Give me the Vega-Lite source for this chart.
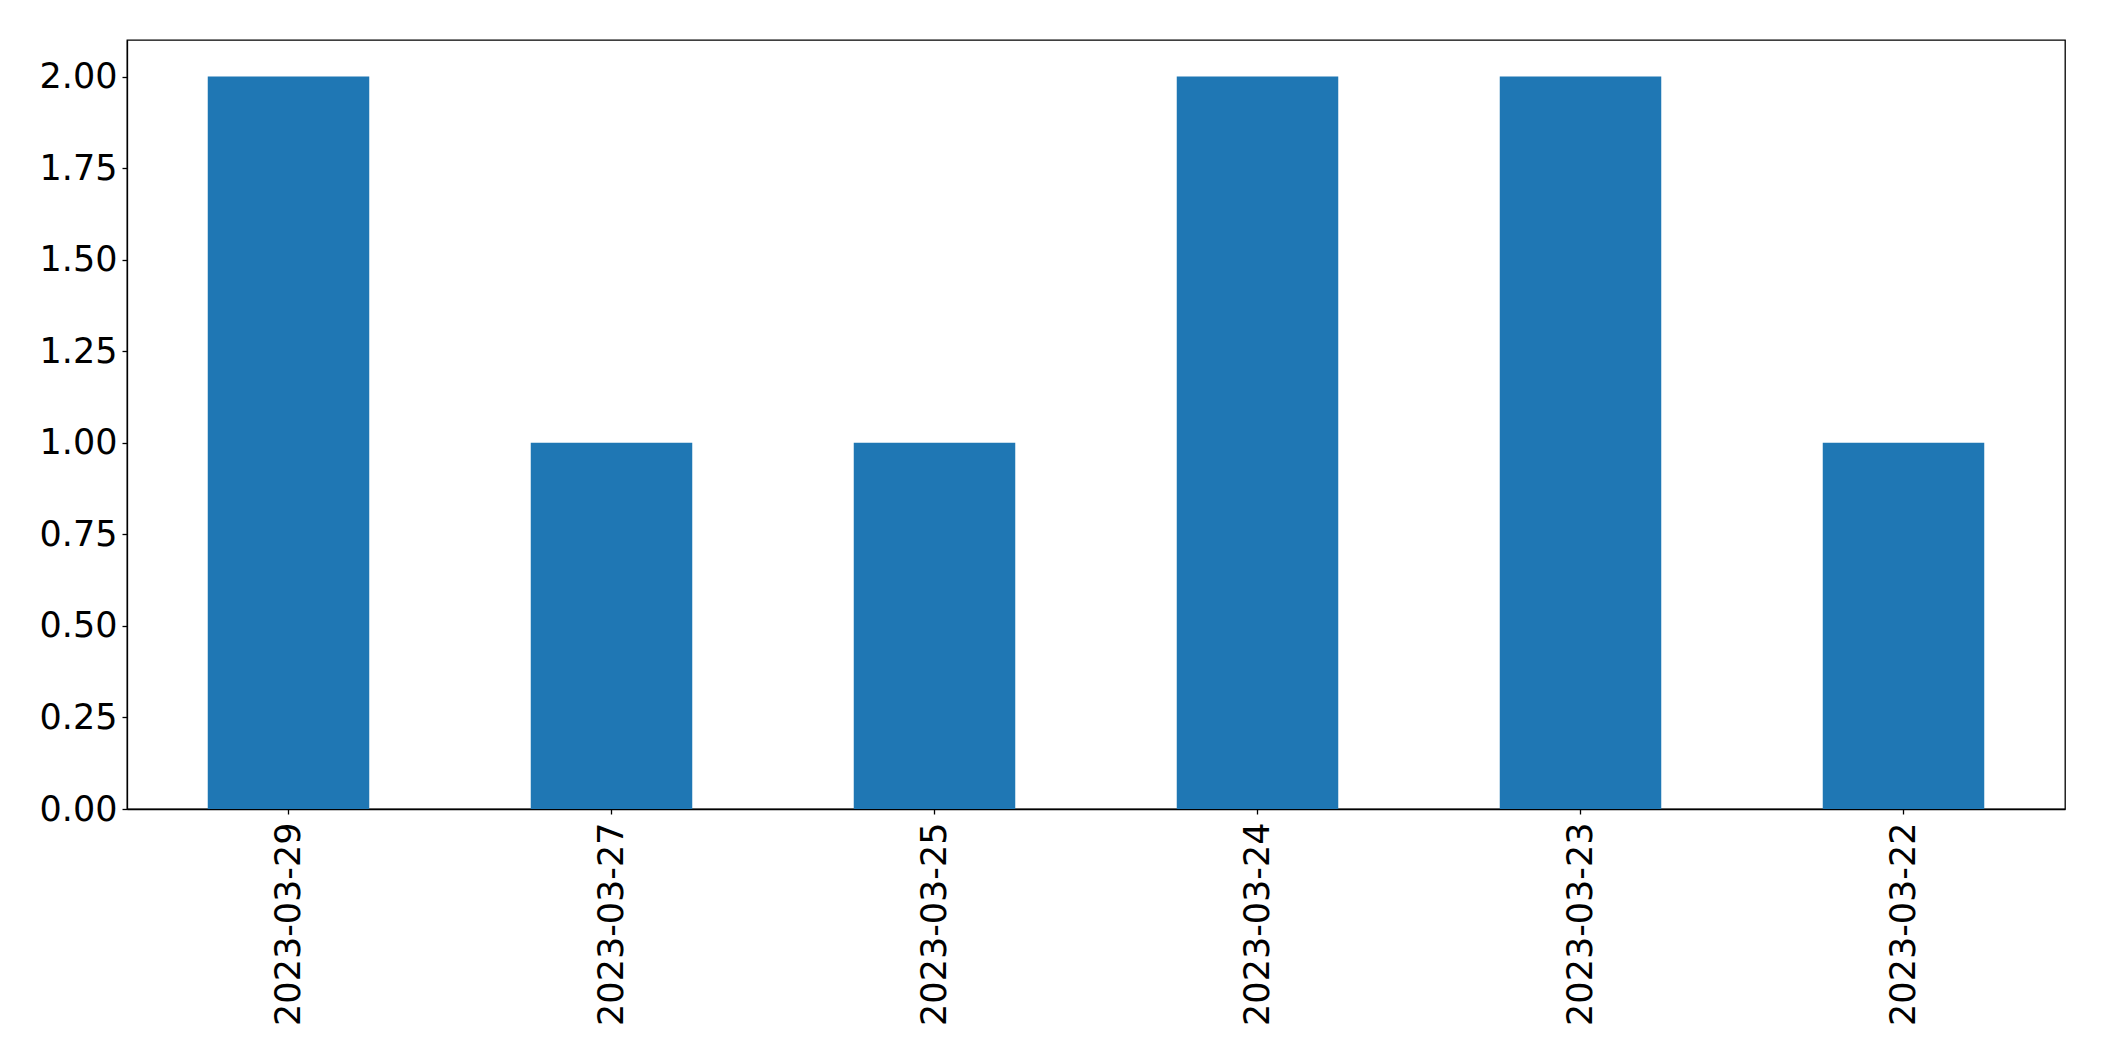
{
  "$schema": "https://vega.github.io/schema/vega-lite/v6.json",
  "autosize": {"type": "none"},
  "padding": {"left": 127, "top": 40, "right": 39, "bottom": 252},
  "width": 1938,
  "height": 769,
  "background": "white",
  "config": {
    "view": {"stroke": "black", "strokeWidth": 1.3},
    "font": "DejaVu Sans",
    "axis": {
      "labelFont": "DejaVu Sans",
      "labelFontSize": 35,
      "labelColor": "black",
      "labelLimit": 0,
      "domainColor": "black",
      "tickColor": "black",
      "tickSize": 5,
      "tickWidth": 1.3,
      "domainWidth": 1.3,
      "grid": false,
      "title": null
    }
  },
  "data": {
    "values": [
      {"date": "2023-03-29", "count": 2},
      {"date": "2023-03-27", "count": 1},
      {"date": "2023-03-25", "count": 1},
      {"date": "2023-03-24", "count": 2},
      {"date": "2023-03-23", "count": 2},
      {"date": "2023-03-22", "count": 1}
    ]
  },
  "mark": {"type": "bar", "color": "#1f77b4"},
  "encoding": {
    "x": {
      "field": "date",
      "type": "nominal",
      "sort": null,
      "scale": {"paddingInner": 0.5, "paddingOuter": 0.25},
      "axis": {"labelAngle": -90, "labelPadding": 8, "labelBaseline": "middle", "labelAlign": "right"}
    },
    "y": {
      "field": "count",
      "type": "quantitative",
      "scale": {"domain": [0, 2.1], "nice": false},
      "axis": {"values": [0, 0.25, 0.5, 0.75, 1, 1.25, 1.5, 1.75, 2], "format": ".2f", "labelPadding": 5}
    }
  }
}
